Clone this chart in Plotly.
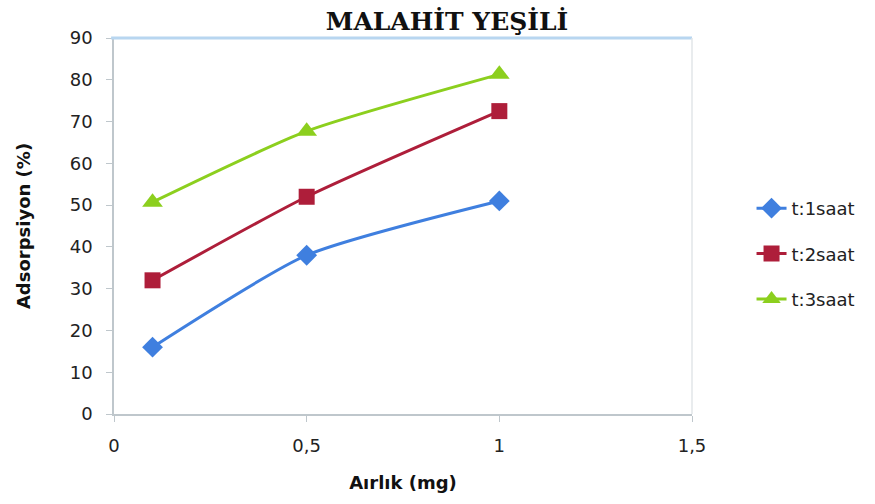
import plotly.graph_objects as go

x_vals = [0.1, 0.5, 1.0]
t1 = [16, 38, 51]
t2 = [32, 52, 72.5]
t3 = [50.7, 67.7, 81.3]
series_names = ["t:1saat", "t:2saat", "t:3saat"]
x_ticks = [0, 0.5, 1, 1.5]
x_tick_text = ["0", "0,5", "1", "1,5"]
y_ticks = list(range(0, 91, 10))

colors = ["#3F7FDF", "#AE1E3A", "#8CCF1E"]
symbols = ["diamond", "square", "triangle-up"]
sizes = [16, 16, 18]

fig = go.Figure()
for name, ys, c, s, sz in zip(series_names, [t1, t2, t3], colors, symbols, sizes):
    fig.add_trace(go.Scatter(
        x=x_vals, y=ys, name=name, legendgroup=name, mode="lines+markers",
        line=dict(color=c, width=3, shape="spline", smoothing=0.6),
        marker=dict(symbol=s, size=sz, color=c, line=dict(width=0)),
    ))

fig.update_layout(
    width=875, height=504,
    margin=dict(l=114, r=183, t=38, b=90),
    paper_bgcolor="white", plot_bgcolor="white",
    title=dict(text="<b>MALAHİT YEŞİLİ</b>", x=447 / 875, xanchor="center", y=0.958, yanchor="middle",
               font=dict(family="DejaVu Serif", size=25, color="#111111")),
    font=dict(family="DejaVu Sans", color="#222222"),
    showlegend=True,
    legend=dict(x=1.103, xanchor="left", y=0.4255, yanchor="middle",
                font=dict(family="DejaVu Sans", size=18, color="#222222"),
                tracegroupgap=19, bgcolor="rgba(0,0,0,0)"),
    xaxis=dict(range=[0, 1.5], tickvals=x_ticks, ticktext=x_tick_text,
               showgrid=False, zeroline=False, showline=True, linecolor="#BFC7CC", linewidth=1.5,
               ticks="outside", ticklen=6, tickcolor="#BFC7CC", ticklabelstandoff=9,
               tickfont=dict(family="DejaVu Sans", size=18, color="#222222"),
               title=dict(text="<b>Aırlık (mg)</b>", font=dict(family="DejaVu Sans", size=18, color="#111111"), standoff=21)),
    yaxis=dict(range=[0, 90], tickvals=y_ticks,
               showgrid=False, zeroline=False, showline=True, linecolor="#BFC7CC", linewidth=1.5,
               ticks="outside", ticklen=6, tickcolor="#BFC7CC", ticklabelstandoff=10,
               tickfont=dict(family="DejaVu Sans", size=18, color="#222222"),
               title=dict(text="<b>Adsorpsiyon (%)</b>", font=dict(family="DejaVu Sans", size=18, color="#111111"), standoff=34)),
)

fig.add_shape(type="line", xref="paper", yref="paper", x0=-0.005, x1=1.0, y0=1, y1=1,
              line=dict(color="#B8D6F0", width=3))
fig.add_shape(type="line", xref="paper", yref="paper", x0=1.0, x1=1.0, y0=0, y1=1,
              line=dict(color="#E2E6E8", width=1.5))

fig.write_html("out.html")
